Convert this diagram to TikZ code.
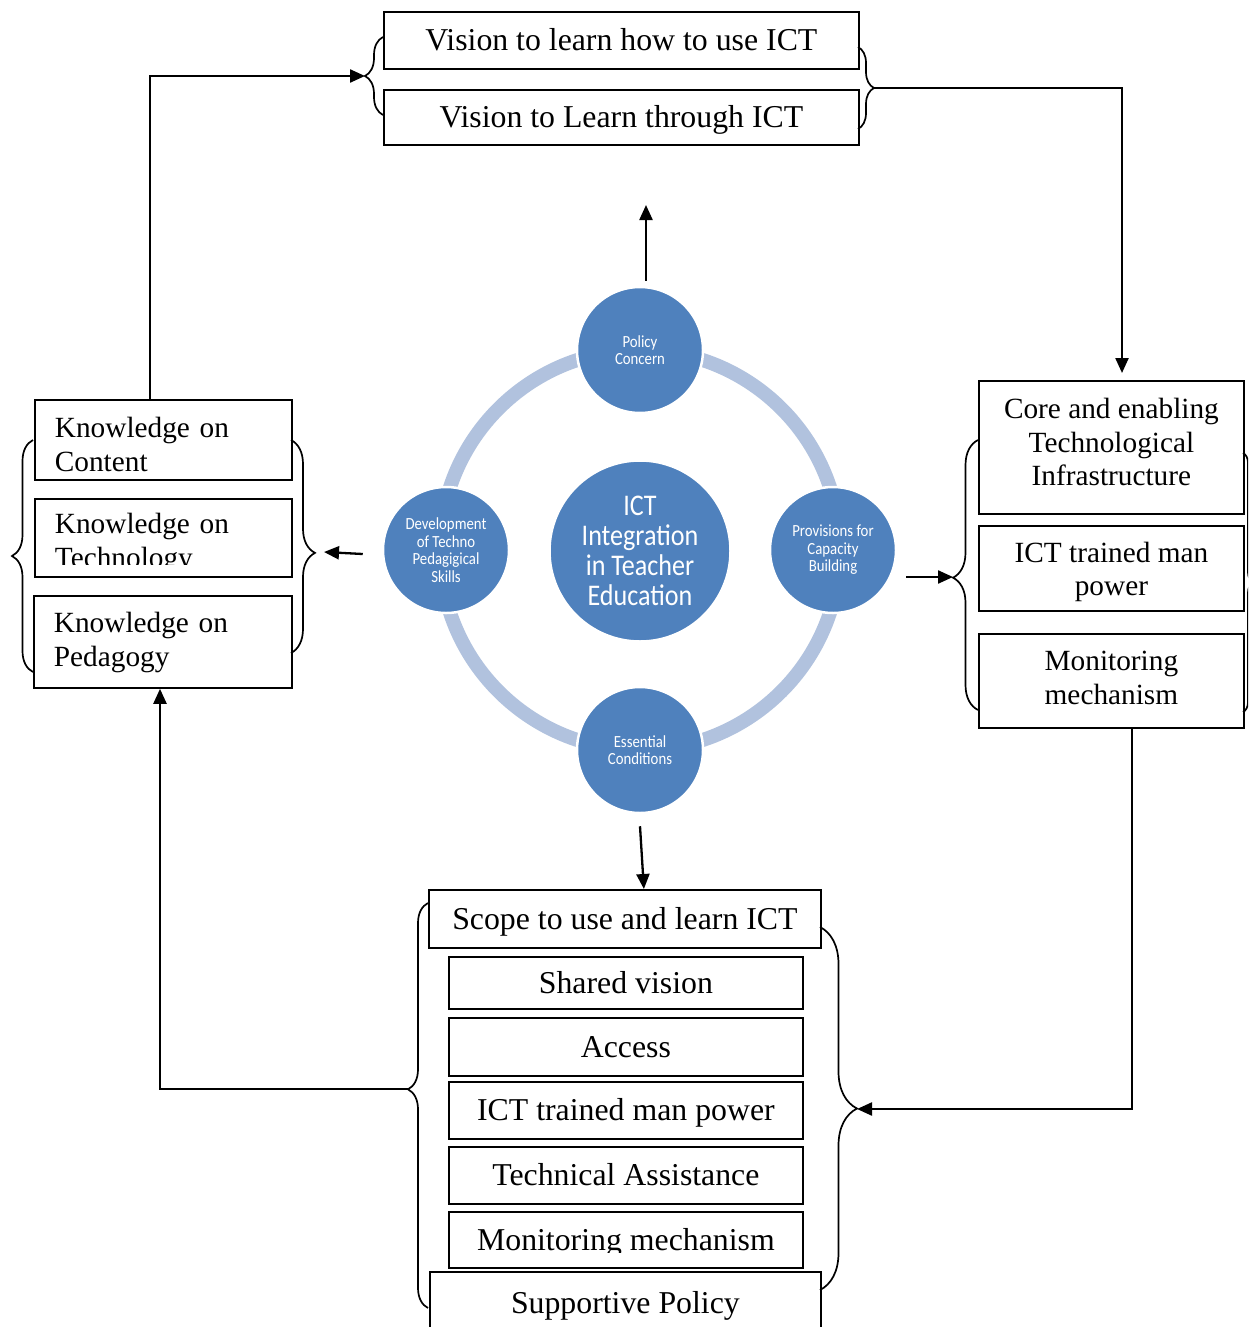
\documentclass[tikz,border=0pt]{standalone}
\usepackage{fontspec}
\setmainfont{Liberation Serif}
\newfontfamily\circfont[FakeStretch=0.87]{Carlito}
\usetikzlibrary{arrows.meta,decorations.pathreplacing,calc}

\definecolor{discblue}{RGB}{79,129,189}
\definecolor{ringblue}{RGB}{177,194,222}

\begin{document}
\begin{tikzpicture}[x=1pt,y=-1pt,
  box/.style={draw, line width=1.8pt, inner sep=0pt, anchor=north west},
  bigtxt/.style={font=\fontsize{31.8}{36}\selectfont},
  smtxt/.style={font=\fontsize{29.3}{33.5}\selectfont},
  oneline/.style={text height=21pt, text depth=0pt},
  % the reference baseline sits #1 below the top edge, #2 above the bottom edge
  basesplit/.style 2 args={text height=#1, text depth=#2},
  leftbox/.style={box, smtxt, align=left, text width=#1},
  midbox/.style={box, smtxt, align=center},
  disc/.style={circle, fill=discblue, draw=white, line width=2.5pt, inner sep=0pt,
    text=white, align=center, minimum size=#1},
  smalldisc/.style={disc=126pt, font=\circfont\fontsize{17}{17.5}\selectfont},
  ring/.style={draw=ringblue, line width=14pt},
  bracestyle/.style={decorate, line width=1.7pt,
    decoration={brace, amplitude=#1}},
  conn/.style={line width=2.3pt, -{Triangle[length=15pt,width=13pt]}}
]
\clip (0,0) rectangle (1248,1327);
\fill[white] (0,0) rectangle (1248,1327);

% ---------- central wheel ----------
\draw[ring] (640,550) circle[radius=200];
\node[disc=181pt, font=\circfont\fontsize{30}{30}\selectfont] (core0) at (640,551)
  {ICT\\Integration\\in Teacher\\Education};
\node[smalldisc] (pc) at (640,350) {Policy\\Concern};
\node[smalldisc] (dv) at (446,550) {Development\\of Techno\\Pedagigical\\Skills};
\node[smalldisc] (pv) at (833,550) {Provisions for\\Capacity\\Building};
\node[smalldisc] (ec) at (640,750) {Essential\\Conditions};

% ---------- vision boxes (top) ----------
\node[box, bigtxt, oneline, minimum width=475pt, minimum height=57pt] (v1) at (383,11)
  {Vision to learn how to use ICT};
\node[box, bigtxt, oneline, minimum width=475pt, minimum height=55pt] (v2) at (383,89)
  {Vision to Learn through ICT};
\draw[bracestyle=18pt] (383,115) -- (383,37);
\coordinate (tlTip) at (365,76);
\draw[bracestyle=16pt] (858,47) -- (858,129);
\coordinate (trTip) at (874,88);

% ---------- knowledge boxes (left); first line is the baseline ----------
\node[leftbox=217pt, basesplit={38pt}{42pt}, minimum width=257pt, minimum height=80pt] (kc) at (34,399)
  {Knowledge on\\Content};
\node[leftbox=217pt, basesplit={35pt}{43pt}, minimum width=257pt, minimum height=78pt] (kt) at (34,498)
  {Knowledge on\\Technology};
\fill[white] (35.5,565) rectangle (289.5,575);
\node[leftbox=218pt, basesplit={37pt}{55pt}, minimum width=258pt, minimum height=92pt] (kp) at (33,595)
  {Knowledge on\\Pedagogy};
\draw[bracestyle=21pt] (33,672) -- (33,440);
\coordinate (llTip) at (12,556);
\draw[bracestyle=24pt, decoration={aspect=0.53}] (291,440) -- (291,653);
\coordinate (lrTip) at (315,552);

% ---------- provision boxes (right); last line is the baseline ----------
\node[midbox, basesplit={105pt}{28pt}, minimum width=265pt, minimum height=133pt] (core) at (978,380)
  {Core and enabling\\Technological\\Infrastructure};
\node[midbox, basesplit={70pt}{15pt}, minimum width=265pt, minimum height=85pt] (man) at (978,525)
  {ICT trained man\\power};
\node[midbox, basesplit={70.5pt}{23.5pt}, minimum width=265pt, minimum height=94pt] (mon) at (978,633)
  {Monitoring\\mechanism};
\draw[bracestyle=25pt, decoration={aspect=0.49}] (978,710) -- (978,440);
\coordinate (rlTip) at (953,577);
\draw[bracestyle=10pt] (1243,453) -- (1243,712);

% ---------- essential conditions boxes (bottom) ----------
\node[box, bigtxt, oneline, minimum width=392pt, minimum height=58pt] (sc) at (428,889)
  {Scope to use and learn ICT};
\node[box, bigtxt, oneline, minimum width=354pt, minimum height=52pt] (sv) at (448,956)
  {Shared vision};
\node[box, bigtxt, oneline, minimum width=354pt, minimum height=58pt] (ac) at (448,1017)
  {Access};
\node[box, bigtxt, oneline, minimum width=354pt, minimum height=57pt] (it) at (448,1081)
  {ICT trained man power};
\node[box, bigtxt, oneline, minimum width=354pt, minimum height=57pt] (ta) at (448,1146)
  {Technical Assistance};
\node[box, bigtxt, oneline, minimum width=354pt, minimum height=56pt] (mm) at (448,1211)
  {Monitoring mechanism};
\fill[white] (449.5,1253) rectangle (800.5,1265.5);
\node[box, bigtxt, oneline, minimum width=391pt, minimum height=62pt] (sp) at (429,1271)
  {Supportive Policy};
\draw[bracestyle=20pt, decoration={aspect=0.54}] (428,1308) -- (428,903);
\coordinate (blTip) at (408,1089);
\draw[bracestyle=37pt, decoration={aspect=0.50}] (820,927) -- (820,1290);
\coordinate (brTip) at (857,1109);

% ---------- connectors ----------
\coordinate (upEnd) at (646,205);
\draw[conn] ([xshift=6pt,yshift=5pt]pc.north) -- (upEnd);
\draw[conn] ([xshift=-19pt,yshift=-4pt]dv.west) -- ([xshift=9pt]lrTip);
\draw[conn] ([xshift=9pt,yshift=-27pt]pv.east) -- (rlTip);
\draw[conn] ([yshift=-12pt]ec.south) -- ([xshift=19pt]sc.north);

\draw[conn] ([xshift=116pt]kc.north west) |- (tlTip);
\draw[conn, shorten >=7pt] (trTip) -| ([xshift=144pt]core.north west);
\draw[conn] ([xshift=154pt]mon.south west) |- (brTip);
\draw[conn] (blTip) -| ([xshift=127pt]kp.south west);
\end{tikzpicture}
\end{document}
